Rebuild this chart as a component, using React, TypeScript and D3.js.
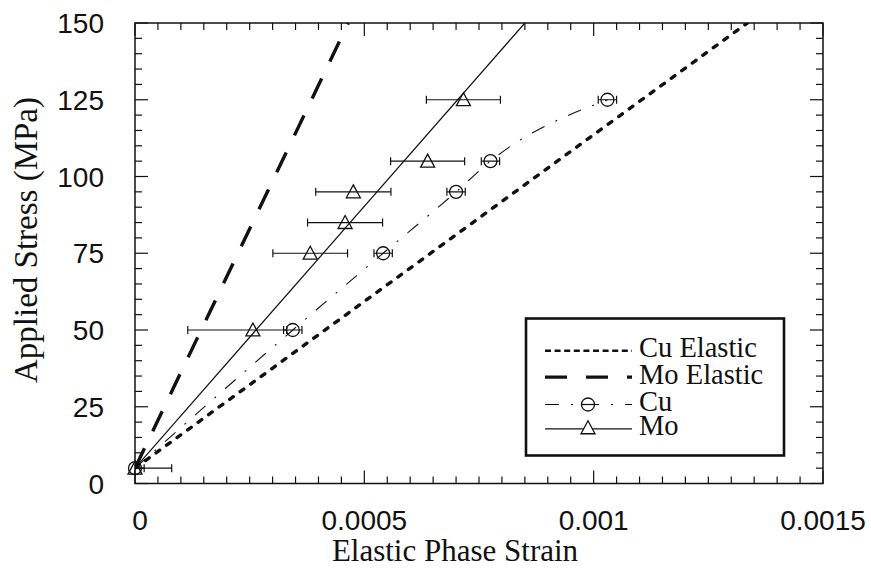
import React from "react";
import * as d3 from "d3";

// ---- data ----
const cuStress = [5, 50, 75, 95, 105, 125];
const cuStrain = [0, 0.000344, 0.000541, 0.0007, 0.000775, 0.00103];
const cuErr = [0.00002, 0.00002, 0.00002, 0.00002, 0.00002, 0.00002];

const moStress = [5, 50, 75, 85, 95, 105, 125];
const moStrain = [0, 0.000257, 0.000382, 0.000458, 0.000476, 0.000638, 0.000716];
const moErrLo = [0.00008, 0.000142, 0.0000814, 0.0000818, 0.000082, 0.0000807, 0.0000807];
const moErrHi = [0.00008, 0.000074, 0.0000814, 0.0000818, 0.000082, 0.0000807, 0.0000807];

const moFitStrain = [0, 0.00085];
const moFitStress = [5, 150];
const moElasticStrain = [0, 0.000465];
const moElasticStress = [5, 150];
const cuElasticStrain = [0, 0.001335];
const cuElasticStress = [5, 150];

const xTicks = [0, 0.0005, 0.001, 0.0015];
const xTickLabels = ["0", "0.0005", "0.001", "0.0015"];
const yTicks = [0, 25, 50, 75, 100, 125, 150];
const yTickLabels = ["0", "25", "50", "75", "100", "125", "150"];
const legendLabels = ["Cu Elastic", "Mo Elastic", "Cu", "Mo"];

// ---- layout ----
const W = 871, H = 571;
const L = 135, R = 823, T = 23, B = 483.5;
const SANS = "'Liberation Sans', Arial, Helvetica, sans-serif";
const SERIF = "'Liberation Serif', 'Times New Roman', Times, serif";
const INK = "#111";

const DOT = "4.5,8.5";
const LONGDASH = "22,19";
const DASHDOT = "14,12,2,12";

function tri(cx: number, cy: number, s = 7) {
  return `M${cx},${cy - s}L${cx + s},${cy + s * 0.85}L${cx - s},${cy + s * 0.85}Z`;
}

export default function App() {
  const x = d3.scaleLinear().domain([0, 0.0015]).range([L, R]);
  const y = d3.scaleLinear().domain([0, 150]).range([B, T]);

  const line = d3
    .line<[number, number]>()
    .x((d) => x(d[0]))
    .y((d) => y(d[1]));
  const curve = d3
    .line<[number, number]>()
    .x((d) => x(d[0]))
    .y((d) => y(d[1]))
    .curve(d3.curveMonotoneX);

  const pairs = (a: number[], b: number[]) => a.map((v, i) => [v, b[i]] as [number, number]);

  const xMinor = d3.range(0, 0.0015 + 1e-9, 0.00005);
  const yMinor = d3.range(0, 150.001, 5);

  const legX = 526, legY = 318.5, legW = 258, legH = 137;
  const rowY = [350.7, 377.2, 404.5, 428.8];
  const sx0 = 545, sx1 = 632, smid = 588, textX = 639;

  return (
    <svg width={W} height={H} style={{ position: "absolute", left: 0, top: 0, background: "#fff" }}>
      <defs>
        <clipPath id="plotclip">
          <rect x={L} y={T} width={R - L} height={B - T} />
        </clipPath>
      </defs>
      <rect x={0} y={0} width={W} height={H} fill="#fff" />

      {/* ticks */}
      <g stroke={INK} strokeWidth={1.2}>
        {xMinor.map((v, i) => {
          const major = i % 10 === 0;
          const len = major ? 13 : 7;
          return (
            <g key={"xt" + i}>
              <line x1={x(v)} x2={x(v)} y1={B} y2={B - len} />
              <line x1={x(v)} x2={x(v)} y1={T} y2={T + len} />
            </g>
          );
        })}
        {yMinor.map((v, i) => {
          const major = i % 5 === 0;
          const len = major ? 13 : 7;
          return (
            <g key={"yt" + i}>
              <line x1={L} x2={L + len} y1={y(v)} y2={y(v)} />
              <line x1={R} x2={R - len} y1={y(v)} y2={y(v)} />
            </g>
          );
        })}
      </g>

      {/* frame */}
      <rect x={L} y={T} width={R - L} height={B - T} fill="none" stroke={INK} strokeWidth={1.5} />

      {/* tick labels */}
      <g fontFamily={SANS} fontSize={28} fill={INK}>
        {xTicks.map((v, i) => (
          <text key={"xl" + i} x={x(v) + (i === 0 ? 5 : 0)} y={530} textAnchor="middle">
            {xTickLabels[i]}
          </text>
        ))}
        {yTicks.map((v, i) => (
          <text key={"yl" + i} x={104} y={y(v)} dy="0.36em" textAnchor="end">
            {yTickLabels[i]}
          </text>
        ))}
      </g>

      {/* axis titles */}
      <text x={455} y={561} textAnchor="middle" fontFamily={SERIF} fontSize={31} fill={INK}>
        Elastic Phase Strain
      </text>
      <text
        transform={`translate(37,${240}) rotate(-90)`}
        textAnchor="middle"
        fontFamily={SERIF}
        fontSize={33}
        fill={INK}
      >
        Applied Stress (MPa)
      </text>

      <g clipPath="url(#plotclip)" fill="none">
        {/* Cu elastic dotted */}
        <path
          d={line(pairs(cuElasticStrain, cuElasticStress)) || ""}
          stroke={INK}
          strokeWidth={3.4}
          strokeDasharray={DOT}
          strokeLinecap="round"
        />
        {/* Mo elastic long dash */}
        <path
          d={line(pairs(moElasticStrain, moElasticStress)) || ""}
          stroke={INK}
          strokeWidth={3.4}
          strokeDasharray={LONGDASH}
        />
        {/* Mo fit solid */}
        <path d={line(pairs(moFitStrain, moFitStress)) || ""} stroke={INK} strokeWidth={1.2} />
        {/* Cu curve dash-dot */}
        <path
          d={curve(pairs(cuStrain, cuStress)) || ""}
          stroke={INK}
          strokeWidth={1.1}
          strokeDasharray={DASHDOT}
        />

        {/* error bars */}
        <g stroke={INK} strokeWidth={1.2}>
          {moStrain.map((v, i) => {
            const cy = y(moStress[i]);
            const a = x(v - moErrLo[i]);
            const b = x(v + moErrHi[i]);
            return (
              <g key={"me" + i}>
                <line x1={a} x2={b} y1={cy} y2={cy} />
                <line x1={a} x2={a} y1={cy - 4} y2={cy + 4} />
                <line x1={b} x2={b} y1={cy - 4} y2={cy + 4} />
              </g>
            );
          })}
          {cuStrain.map((v, i) => {
            const cy = y(cuStress[i]);
            const a = x(v - cuErr[i]);
            const b = x(v + cuErr[i]);
            return (
              <g key={"ce" + i}>
                <line x1={a} x2={b} y1={cy} y2={cy} />
                <line x1={a} x2={a} y1={cy - 4} y2={cy + 4} />
                <line x1={b} x2={b} y1={cy - 4} y2={cy + 4} />
              </g>
            );
          })}
        </g>
      </g>

      {/* markers */}
      <g fill="none" stroke={INK} strokeWidth={1.3}>
        {cuStrain.map((v, i) => (
          <circle key={"cm" + i} cx={x(v)} cy={y(cuStress[i])} r={6.5} />
        ))}
        {moStrain.map((v, i) => (
          <path key={"mm" + i} d={tri(x(v), y(moStress[i]))} />
        ))}
      </g>

      {/* legend */}
      <rect x={legX} y={legY} width={legW} height={legH} fill="#fff" stroke={INK} strokeWidth={2.6} />
      <g fill="none" stroke={INK}>
        <line x1={sx0} x2={sx1} y1={rowY[0]} y2={rowY[0]} strokeWidth={2.6} strokeDasharray="6,3.6" />
        <line x1={sx0} x2={sx1} y1={rowY[1]} y2={rowY[1]} strokeWidth={3.2} strokeDasharray={LONGDASH} />
        <line x1={sx0} x2={sx1} y1={rowY[2]} y2={rowY[2]} strokeWidth={1.1} strokeDasharray={DASHDOT} />
        <circle cx={smid} cy={rowY[2]} r={6.5} strokeWidth={1.3} />
        <line x1={smid - 6.5} x2={smid + 6.5} y1={rowY[2]} y2={rowY[2]} strokeWidth={1.2} />
        <line x1={sx0} x2={sx1} y1={rowY[3]} y2={rowY[3]} strokeWidth={1.2} />
        <path d={tri(smid, rowY[3] - 1)} strokeWidth={1.3} fill="#fff" />
      </g>
      <g fontFamily={SERIF} fontSize={28.5} fill={INK}>
        {legendLabels.map((t, i) => (
          <text key={"lg" + i} x={textX} y={rowY[i] + 6.5}>
            {t}
          </text>
        ))}
      </g>
    </svg>
  );
}
